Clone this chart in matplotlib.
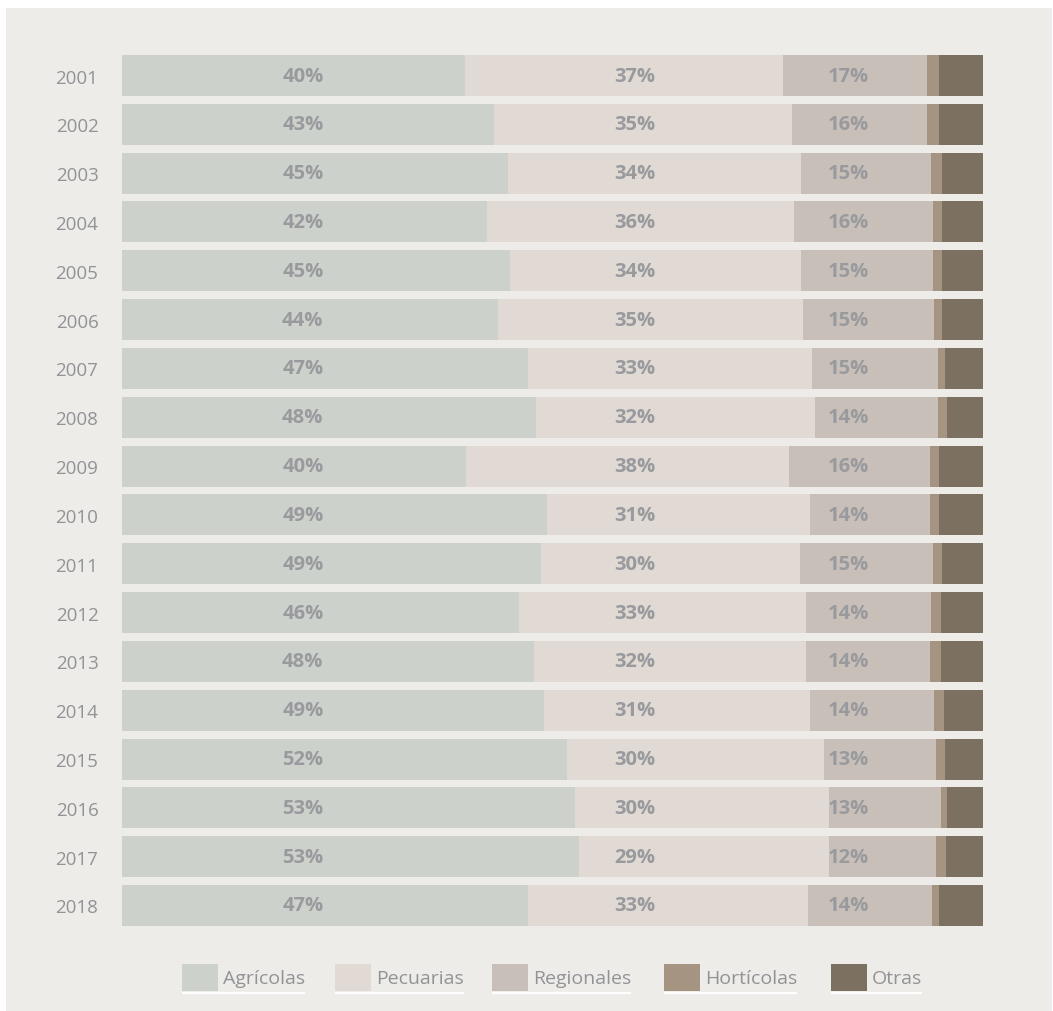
import matplotlib.pyplot as plt
from matplotlib.patches import Rectangle
import numpy as np

plt.rcParams['font.family'] = ['Open Sans', 'DejaVu Sans']

years = [str(y) for y in range(2001, 2019)]
categories = ['Agrícolas', 'Pecuarias', 'Regionales', 'Hortícolas', 'Otras']

# shares in %
agricolas = [39.84, 43.21, 44.83, 42.40, 45.06, 43.67, 47.15, 48.08, 39.90, 49.36,
             48.66, 46.10, 47.80, 49.01, 51.68, 52.60, 53.08, 47.15]
pecuarias = [36.93, 34.61, 34.03, 35.60, 33.80, 35.42, 32.99, 32.40, 37.60, 30.55,
             30.08, 33.40, 31.60, 30.89, 29.85, 29.50, 29.04, 32.52]
regionales = [16.72, 15.68, 15.10, 16.19, 15.33, 15.22, 14.63, 14.30, 16.30, 13.94,
              15.45, 14.49, 14.48, 14.40, 13.01, 13.01, 12.45, 14.45]
horticolas = [1.39, 1.39, 1.28, 1.05, 1.05, 0.93, 0.81, 1.05, 1.10, 1.05,
              1.05, 1.10, 1.30, 1.16, 1.05, 0.70, 1.13, 0.77]
otras = [5.11, 5.11, 4.76, 4.76, 4.76, 4.76, 4.41, 4.17, 5.10, 5.11,
         4.76, 4.91, 4.82, 4.53, 4.41, 4.20, 4.30, 5.11]

colors = ['#CCD1CB', '#E0D9D4', '#C8BFB9', '#A59482', '#7C7061']
bg = '#EEECE8'
txt = '#929397'

W, H = 1053, 1012
fig = plt.figure(figsize=(W / 100, H / 100), dpi=100, facecolor='white')

# background panel + legend drawn in pixel space
bgax = fig.add_axes([0, 0, 1, 1], zorder=0)
bgax.set_xlim(0, W)
bgax.set_ylim(H, 0)
bgax.axis('off')
bgax.add_patch(Rectangle((6, 9), W - 7, H - 9 + 2, color=bg, lw=0))

ax = fig.add_axes([122 / W, 1 - 930.9 / H, 861 / W, (930.9 - 52.1) / H], zorder=1)
ax.patch.set_alpha(0)

series = [agricolas, pecuarias, regionales, horticolas, otras]
y = np.arange(len(years))
left = np.zeros(len(years))
for vals, c, name in zip(series, colors, categories):
    ax.barh(y, vals, left=left, height=0.84, color=c, lw=0, label=name)
    left += np.array(vals)

label_x = [21.0, 59.6, 84.4]
for vals, lx in zip(series[:3], label_x):
    for i, v in enumerate(vals):
        ax.text(lx, i, f'{v:.0f}%', ha='center', va='center', fontsize=14.5,
                fontweight='bold', color='#999A9E')

ax.set_xlim(0, 100)
ax.set_ylim(len(years) - 0.5, -0.5)
ax.set_yticks(y)
ax.set_yticklabels(years, fontsize=13.5, color=txt)
ax.tick_params(axis='y', length=0, pad=17)
ax.set_xticks([])
for s in ax.spines.values():
    s.set_visible(False)

# legend
leg_x = [182, 335, 492, 664, 831]
fig.canvas.draw()
r = fig.canvas.get_renderer()
for lx, c, name in zip(leg_x, colors, categories):
    bgax.add_patch(Rectangle((lx, 965), 36, 27, color=c, lw=0))
    t = bgax.text(lx + 41, 979, name, ha='left', va='center', fontsize=14, color=txt)
    bb = t.get_window_extent(renderer=r)
    bgax.plot([lx, bb.x1], [994, 994], color='white', lw=1.6, solid_capstyle='butt')

fig.savefig('out.png', dpi=100, facecolor='white')
